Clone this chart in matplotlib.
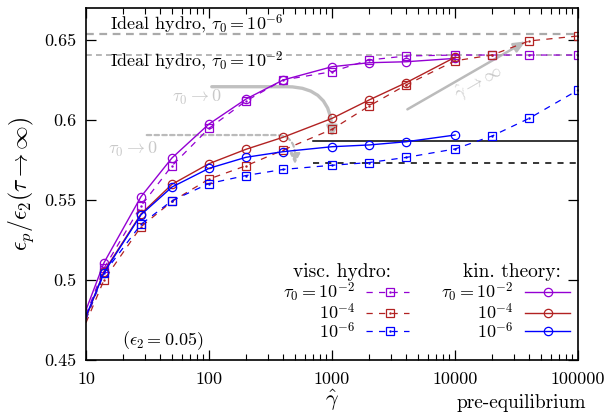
import numpy as np
import matplotlib
matplotlib.use('Agg')
import matplotlib.pyplot as plt
from matplotlib.patches import FancyArrowPatch

plt.rcParams['font.family'] = 'serif'
plt.rcParams['font.serif'] = ['cmr10']
plt.rcParams['mathtext.fontset'] = 'cm'
plt.rcParams['axes.unicode_minus'] = False
plt.rcParams['axes.formatter.use_mathtext'] = True

# gamma-hat values (first point at 10 carries no marker)
gamma_kin = [10, 14, 28, 50, 100, 200, 400, 1000, 2000, 4000, 10000]
gamma_hyd = [10, 14, 28, 50, 100, 200, 400, 1000, 2000, 4000, 10000, 20000, 40000, 100000]

# kinetic theory, tau0 = 1e-2, 1e-4, 1e-6
kin_2 = [0.481, 0.5105, 0.5518, 0.5760, 0.5972, 0.6128, 0.6247, 0.6330, 0.6355, 0.6361, 0.6382]
kin_4 = [0.476, 0.5050, 0.5410, 0.5595, 0.5724, 0.5814, 0.5889, 0.6007, 0.6122, 0.6230, 0.6389]
kin_6 = [0.477, 0.5043, 0.5405, 0.5578, 0.5695, 0.5764, 0.5799, 0.5830, 0.5841, 0.5861, 0.5903]

# viscous hydro, tau0 = 1e-2, 1e-4, 1e-6
hyd_2 = [0.478, 0.5070, 0.5460, 0.5711, 0.5945, 0.6116, 0.6247, 0.6299, 0.6372, 0.6397, 0.6403, 0.6403, 0.6403, 0.6403]
hyd_4 = [0.473, 0.4997, 0.5330, 0.5488, 0.5628, 0.5711, 0.5809, 0.5939, 0.6084, 0.6216, 0.6367, 0.6403, 0.6491, 0.6522]
hyd_6 = [0.475, 0.5040, 0.5345, 0.5493, 0.5600, 0.5650, 0.5688, 0.5714, 0.5731, 0.5763, 0.5816, 0.5897, 0.6007, 0.6184]

ideal_6 = 0.6533
ideal_2 = 0.6404
# free streaming limits (kin. / hydro), drawn from ~700 to 1e5
limit_x = [700, 100000]
limit_kin = 0.5866
limit_hyd = 0.5730

purple = '#9400D3'
red = '#B22222'
blue = '#0000FF'
grey = '#AAAAAA'
lightgrey = '#C8C8C8'

fig = plt.figure(figsize=(6.04, 4.13), dpi=100)
ax = fig.add_axes([0.1424, 0.1295, 0.8146, 0.8523])

ax.axhline(ideal_6, color=grey, lw=1.6, ls=(0, (3.5, 2.5)))
ax.axhline(ideal_2, color=grey, lw=1.2, ls=(0, (3.5, 2.5)))

ax.plot(limit_x, [limit_kin, limit_kin], color='black', lw=1.1)
ax.plot(limit_x, [limit_hyd, limit_hyd], color='black', lw=1.1, ls=(0, (4, 4)))

for vals, c in [(hyd_2, purple), (hyd_4, red), (hyd_6, blue)]:
    ax.plot(gamma_hyd, vals, color=c, lw=0.9, ls=(0, (5, 5)), marker='s', ms=6,
            mfc='none', mew=0.9, markevery=list(range(1, len(gamma_hyd))))
    ax.plot(gamma_hyd[1:], vals[1:], ls='none', marker='.', ms=1.5, color=c)

for vals, c in [(kin_2, purple), (kin_4, red), (kin_6, blue)]:
    ax.plot(gamma_kin, vals, color=c, lw=1.0, marker='o', ms=6,
            mfc='none', mew=0.9, markevery=list(range(1, len(gamma_kin))))

# annotations
ax.text(15.7, 0.6597, r'Ideal hydro, $\tau_0 = 10^{-6}$', fontsize=13, va='center', ha='left')
ax.text(15.7, 0.6366, r'Ideal hydro, $\tau_0 = 10^{-2}$', fontsize=13, va='center', ha='left')

a1 = FancyArrowPatch((100, 0.6205), (1000, 0.5872),
                     connectionstyle='angle,angleA=0,angleB=90,rad=45',
                     arrowstyle='-|>,head_length=6,head_width=3', color='#C0C0C0',
                     lw=2.4, mutation_scale=1)
ax.add_patch(a1)
ax.text(80, 0.6135, r'$\tau_0 \rightarrow 0$', color=lightgrey, fontsize=13, ha='center', va='center')

a2 = FancyArrowPatch((29.6, 0.5903), (500, 0.5705),
                     connectionstyle='angle,angleA=0,angleB=90,rad=20',
                     arrowstyle='-|>,head_length=6,head_width=3', color='#BBBBBB',
                     lw=1.6, ls=(0, (2, 1.5)), mutation_scale=1)
ax.add_patch(a2)
ax.text(24, 0.581, r'$\tau_0 \rightarrow 0$', color=lightgrey, fontsize=13, ha='center', va='center')

a3 = FancyArrowPatch((3920, 0.6055), (39200, 0.6497),
                     arrowstyle='-|>,head_length=7,head_width=3', color='#BBBBBB',
                     lw=1.8, mutation_scale=1)
ax.add_patch(a3)
ax.text(15400, 0.6234, r'$\hat{\gamma} \rightarrow \infty$', color=lightgrey, fontsize=13,
        ha='center', va='center', rotation=30)

ax.text(0.155, 0.055, r'$(\epsilon_2 = 0.05)$', transform=ax.transAxes, fontsize=13,
        ha='center', va='center')

# legend block
fs = 13
ax.text(0.521, 0.249, 'visc. hydro:', transform=ax.transAxes, fontsize=14, ha='center', va='center')
ax.text(0.866, 0.249, 'kin. theory:', transform=ax.transAxes, fontsize=14, ha='center', va='center')
rows_y = [0.192, 0.1335, 0.081]
row_lab = [r'$\tau_0 = 10^{-2}$', r'$10^{-4}$', r'$10^{-6}$']
for y, lab, c in zip(rows_y, row_lab, [purple, red, blue]):
    ax.text(0.547, y, lab, transform=ax.transAxes, fontsize=fs, ha='right', va='center')
    ax.plot([0.570, 0.657], [y, y], transform=ax.transAxes, color=c, lw=0.9,
            ls=(0, (5, 5)), clip_on=False)
    ax.plot([0.618], [y], transform=ax.transAxes, color=c, marker='s', ms=6, mfc='none',
            mew=0.9, clip_on=False)
    ax.plot([0.618], [y], transform=ax.transAxes, color=c, marker='.', ms=1.5, clip_on=False)
    ax.text(0.869, y, lab, transform=ax.transAxes, fontsize=fs, ha='right', va='center')
    ax.plot([0.892, 0.984], [y, y], transform=ax.transAxes, color=c, lw=1.0, clip_on=False)
    ax.plot([0.939], [y], transform=ax.transAxes, color=c, marker='o', ms=6, mfc='none',
            mew=0.9, clip_on=False)

ax.set_xscale('log')
ax.set_xlim(10, 100000)
ax.set_ylim(0.45, 0.67)
ax.set_xticks([10, 100, 1000, 10000, 100000])
ax.set_xticklabels(['10', '100', '1000', '10000', '100000'])
ax.set_yticks([0.45, 0.5, 0.55, 0.6, 0.65])
ax.set_yticklabels(['0.45', '0.5', '0.55', '0.6', '0.65'])
ax.tick_params(which='both', direction='in', top=True, right=True, labelsize=13, pad=7)
ax.tick_params(which='major', length=7, width=0.9)
ax.tick_params(which='minor', length=4, width=0.8)
ax.tick_params(axis='x', pad=9)
for s in ax.spines.values():
    s.set_linewidth(1.2)

ax.set_xlabel(r'$\hat{\gamma}$', fontsize=16, labelpad=0)
ax.set_ylabel(r'$\epsilon_p/\epsilon_2(\tau\rightarrow\infty)$', fontsize=17, labelpad=6)
fig.text(0.863, 0.024, 'pre-equilibrium', fontsize=14, ha='center', va='center')

fig.savefig('out.png', dpi=100)
